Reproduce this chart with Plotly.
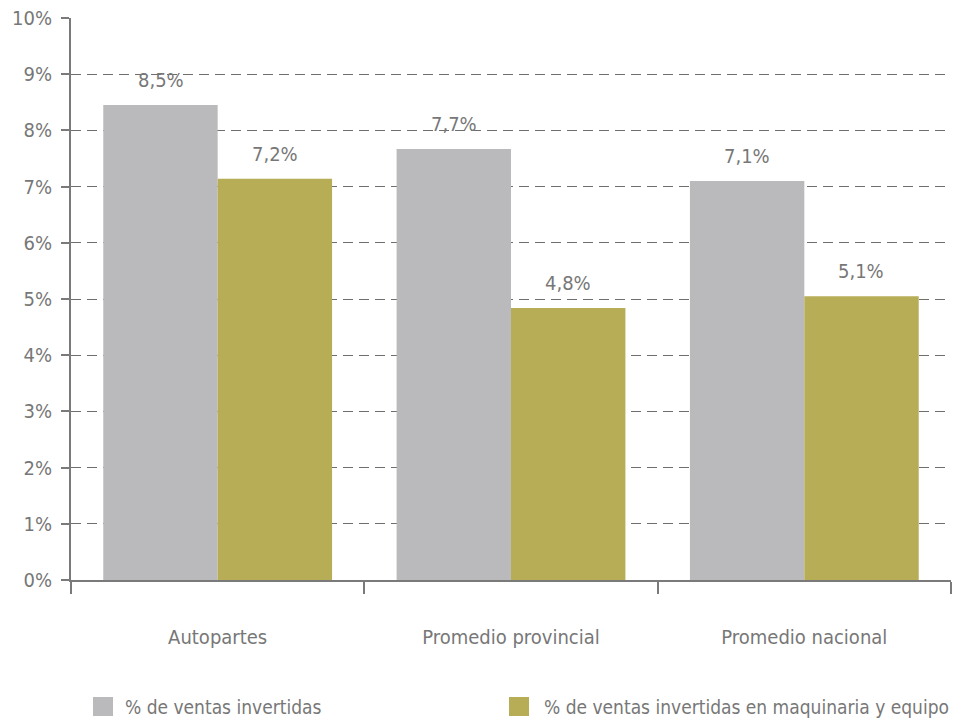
import plotly.graph_objects as go

categories = ["Autopartes", "Promedio provincial", "Promedio nacional"]
series_names = ["% de ventas invertidas", "% de ventas invertidas en maquinaria y equipo"]
ventas_invertidas = [8.45, 7.67, 7.10]
ventas_maquinaria = [7.14, 4.84, 5.05]
labels_invertidas = ["8,5%", "7,7%", "7,1%"]
labels_maquinaria = ["7,2%", "4,8%", "5,1%"]
y_tick_values = [0, 1, 2, 3, 4, 5, 6, 7, 8, 9, 10]
y_tick_labels = ["0%", "1%", "2%", "3%", "4%", "5%", "6%", "7%", "8%", "9%", "10%"]

FONT = "DejaVu Sans Condensed, Liberation Sans Narrow, sans-serif"
TXT = "#777777"
AXIS = "#7a7a7a"
GRAY = "#BABABC"
OLIVE = "#B6AD56"
FS = 20
LFS = 19

fig = go.Figure()
fig.add_trace(go.Bar(x=categories, y=ventas_invertidas, name=series_names[0],
                     marker=dict(color=GRAY, line=dict(width=0)), showlegend=False))
fig.add_trace(go.Bar(x=categories, y=ventas_maquinaria, name=series_names[1],
                     marker=dict(color=OLIVE, line=dict(width=0)), showlegend=False))

annotations = []
for cat, v, t in zip(categories, ventas_invertidas, labels_invertidas):
    annotations.append(dict(x=cat, y=v, xref="x", yref="y", text=t, showarrow=False,
                            xshift=-57, yshift=11, yanchor="bottom",
                            font=dict(family=FONT, size=FS, color=TXT)))
for cat, v, t in zip(categories, ventas_maquinaria, labels_maquinaria):
    annotations.append(dict(x=cat, y=v, xref="x", yref="y", text=t, showarrow=False,
                            xshift=57, yshift=11, yanchor="bottom",
                            font=dict(family=FONT, size=FS, color=TXT)))

# manual legend (swatches + text)
W, H = 963, 724
ml, mr, mt, mb = 71, 12, 18, 144
pw, ph = W - ml - mr, H - mt - mb

def px_to_paper_x(px):
    return (px - ml) / pw

def px_to_paper_y(py):
    return (H - mb - py) / ph

shapes = []
legend_items = [(93, GRAY, series_names[0], 93 + 30), (509, OLIVE, series_names[1], 951)]
for x0, col, name, tx in legend_items:
    shapes.append(dict(type="rect", xref="paper", yref="paper",
                       x0=px_to_paper_x(x0), x1=px_to_paper_x(x0 + 20),
                       y0=px_to_paper_y(716), y1=px_to_paper_y(697),
                       fillcolor=col, line=dict(width=0)))
    anchor = "left" if tx < x0 + 100 else "right"
    annotations.append(dict(x=px_to_paper_x(tx), y=px_to_paper_y(707), xref="paper", yref="paper",
                            text=name, showarrow=False, xanchor=anchor, yanchor="middle",
                            font=dict(family=FONT, size=LFS, color=TXT)))

fig.update_layout(
    width=W, height=H,
    margin=dict(l=ml, r=mr, t=mt, b=mb, pad=0, autoexpand=False),
    paper_bgcolor="white", plot_bgcolor="white",
    barmode="group", bargap=0.22, bargroupgap=0,
    font=dict(family=FONT, size=FS, color=TXT),
    annotations=annotations, shapes=shapes,
    showlegend=False,
)
fig.update_xaxes(
    type="category", range=[-0.5, 2.5], automargin=False,
    showline=True, linecolor=AXIS, linewidth=2,
    ticks="outside", tickson="boundaries", ticklen=12, tickwidth=2, tickcolor=AXIS,
    showgrid=False, ticklabelstandoff=38,
    tickfont=dict(family=FONT, size=FS, color=TXT),
)
fig.update_yaxes(
    range=[0, 10], tickvals=y_tick_values, ticktext=y_tick_labels, automargin=False,
    showline=True, linecolor=AXIS, linewidth=2,
    ticks="outside", ticklen=8, tickwidth=2, tickcolor=AXIS,
    showgrid=True, gridcolor="#6e6e6e", gridwidth=1, griddash="10px,6px",
    zeroline=False, ticklabelstandoff=5,
    tickfont=dict(family=FONT, size=FS, color=TXT),
)

fig.write_html("out.html", config={"displayModeBar": False},
               post_script="document.body.style.margin='0';document.body.style.overflow='hidden';")
